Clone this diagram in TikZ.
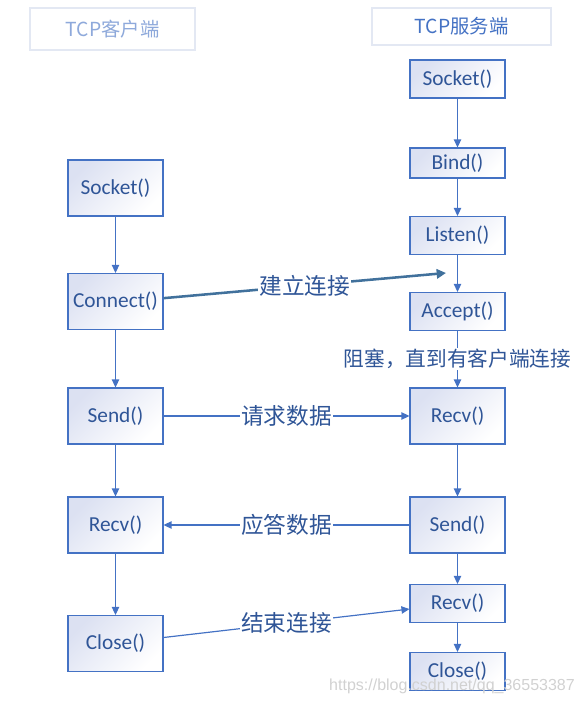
\documentclass[tikz,border=0pt]{standalone}
\usepackage{fontspec}
\setmainfont{Carlito}
\newfontfamily\cjk{Noto Sans CJK SC}
\newfontfamily\markfont{Liberation Sans}
\usetikzlibrary{arrows.meta}
\definecolor{boxline}{HTML}{4472C4}
\definecolor{boxtext}{HTML}{2F5597}
\definecolor{boxshade}{HTML}{DCE1F2}
\definecolor{linkline}{HTML}{41719C}
\definecolor{titleline}{HTML}{E3E8F3}
\definecolor{clienttext}{HTML}{8EA9DB}

\begin{document}
\begin{tikzpicture}[x=0.75pt, y=-0.75pt,
		>={Triangle[width=5.5pt,length=6pt]},
		funcnode/.style={draw=boxline, line width=0.8pt, text=boxtext, minimum width=71.25pt, minimum height=28.5pt, inner sep=0pt, top color=boxshade, bottom color=white, shading angle=45, font=\fontsize{16}{19}\selectfont},
		bignode/.style={funcnode, minimum height=42pt},
		titlenode/.style={draw=titleline, line width=0.8pt, fill=white, inner sep=0pt, font=\cjk\fontsize{14.5}{17}\selectfont},
		flow/.style={->, draw=boxline, line width=0.9pt},
		msgtext/.style={fill=white, text=boxtext, inner sep=1pt, font=\cjk\fontsize{17}{20}\selectfont},
		]
		\useasboundingbox (0,0) rectangle (583,705);
		%Titles
		\node[titlenode, minimum width=123.75pt, minimum height=31.5pt, text=clienttext] (ctitle) at (112.5,29) {TCP客户端};
		\node[titlenode, minimum width=134.25pt, minimum height=27.75pt, text=boxline]   (stitle) at (461.5,26.5) {TCP服务端};
		
		%Client nodes
		\node[bignode]  (c1) at (115.5,188)   {Socket()};
		\node[bignode]  (c2) at (115.5,301.5) {Connect()};
		\node[bignode]  (c3) at (115.5,416)   {Send()};
		\node[bignode]  (c4) at (115.5,525)   {Recv()};
		\node[bignode]  (c5) at (115.5,643.5) {Close()};
		
		%Server nodes
		\node[funcnode] (s1) at (457.5,79)    {Socket()};
		\node[funcnode, minimum height=22.5pt] (s2) at (457.5,163) {Bind()};
		\node[funcnode] (s3) at (457.5,235.5) {Listen()};
		\node[funcnode] (s4) at (457.5,311.5) {Accept()};
		\node[bignode]  (s5) at (457.5,416)   {Recv()};
		\node[bignode]  (s6) at (457.5,525)   {Send()};
		\node[funcnode] (s7) at (457.5,603.5) {Recv()};
		\node[funcnode] (s8) at (457.5,671.5) {Close()};
		\coordinate (linkend) at (446,273);
		
		%Lines
		\draw[flow] (c1) -- (c2);
		\draw[flow] (c2) -- (c3);
		\draw[flow] (c3) -- (c4);
		\draw[flow] (c4) -- (c5);
		\draw[flow] (s1) -- (s2);
		\draw[flow] (s2) -- (s3);
		\draw[flow] (s3) -- (s4);
		\draw[flow] (s4) -- node[msgtext, font=\cjk\fontsize{15.5}{18}\selectfont] {阻塞，直到有客户端连接} (s5);
		\draw[flow] (s5) -- (s6);
		\draw[flow] (s6) -- (s7);
		\draw[flow] (s7) -- (s8);
		
		%Messages
		\draw[->, draw=linkline, line width=1.9pt, >={Triangle[width=7pt,length=7pt]}] ([yshift=2.5pt]c2.east) -- node[msgtext] {建立连接} (linkend);
		\draw[flow] (c3) -- node[msgtext] {请求数据} (s5);
		\draw[flow] (s6) -- node[msgtext] {应答数据} (c4);
		\draw[flow] ([yshift=4.5pt]c5.east) -- node[msgtext] {结束连接} (s7);
		
		%Watermark
		\node[text=black!18, font=\markfont\fontsize{12}{14}\selectfont] (mark) at (452,686) {https://blog.csdn.net/qq\_36553387};
\end{tikzpicture}
\end{document}
